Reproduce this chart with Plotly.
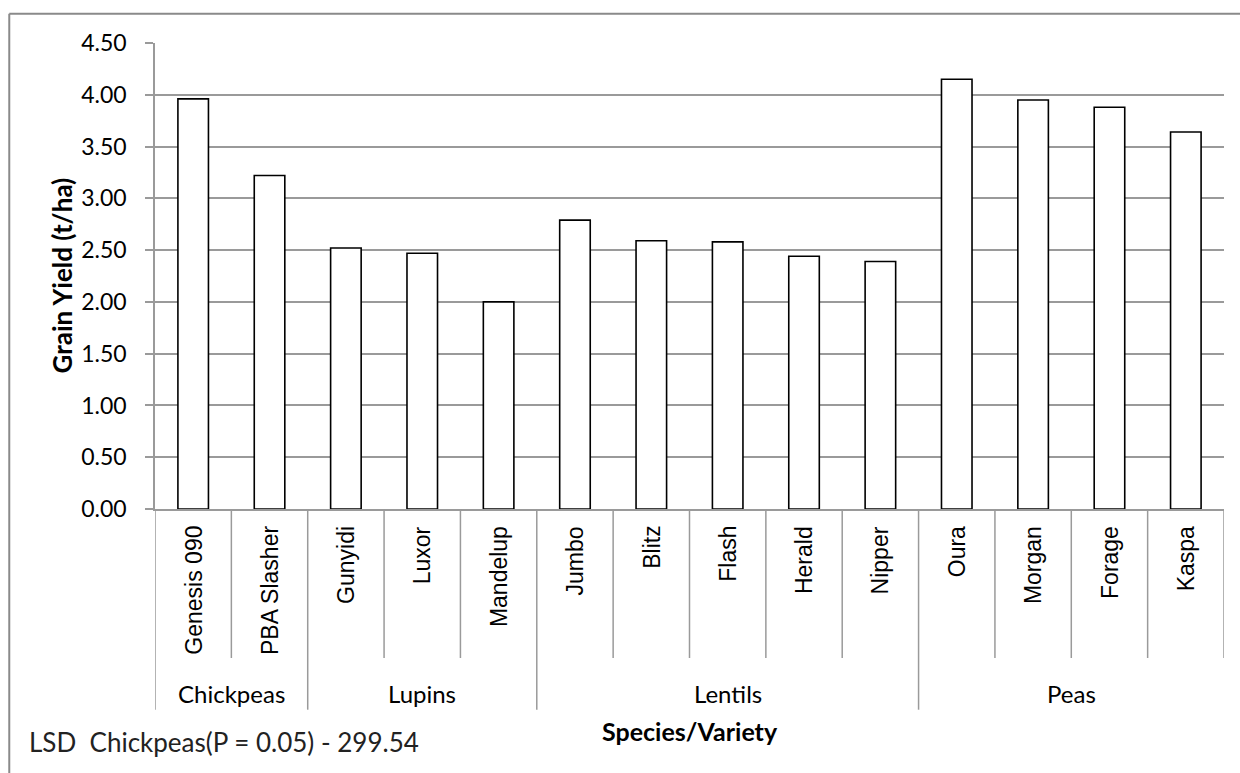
import plotly.graph_objects as go

varieties = ["Genesis 090", "PBA Slasher", "Gunyidi", "Luxor", "Mandelup",
             "Jumbo", "Blitz", "Flash", "Herald", "Nipper",
             "Oura", "Morgan", "Forage", "Kaspa"]
species = ["Chickpeas"] * 2 + ["Lupins"] * 3 + ["Lentils"] * 5 + ["Peas"] * 4
yields = [3.96, 3.22, 2.52, 2.47, 2.00, 2.79, 2.59, 2.58, 2.44, 2.39,
          4.15, 3.95, 3.88, 3.64]
y_ticks = [0, 0.5, 1.0, 1.5, 2.0, 2.5, 3.0, 3.5, 4.0, 4.5]

W, H = 1240, 773
L, R, T, B = 154.5, 16, 43.3, 263.7
plot_h = H - T - B

GRID = "#9a9a9a"
FONT = "Lato"

fig = go.Figure()
fig.add_trace(go.Bar(
    x=varieties, y=yields, width=0.4,
    marker=dict(color="white", line=dict(color="black", width=1.6)),
    showlegend=False, hoverinfo="x+y",
))

def py(px_below_axis):
    return -px_below_axis / plot_h

shapes = []
n = len(varieties)
group_starts = [i for i in range(n) if i == 0 or species[i] != species[i - 1]]
for i in range(n + 1):
    long_line = (i in group_starts)
    y1 = py(200.7) if long_line else py(149)
    shapes.append(dict(type="line", xref="x", yref="paper",
                       x0=i - 0.5, x1=i - 0.5, y0=0, y1=y1,
                       line=dict(color=GRID, width=1.5), layer="above"))

annotations = []
for v in varieties:
    annotations.append(dict(x=v, xref="x", y=0, yref="paper", yanchor="top",
                            xanchor="center", yshift=-15, textangle=-90,
                            text=v, showarrow=False,
                            font=dict(family="Liberation Sans", size=23, color="black")))

groups = []
for s in species:
    if s not in groups:
        groups.append(s)
for g in groups:
    idx = [i for i, s in enumerate(species) if s == g]
    annotations.append(dict(x=sum(idx) / len(idx), xref="x", y=0, yref="paper",
                            yanchor="middle", xanchor="center", yshift=-184.7,
                            text=g, showarrow=False,
                            font=dict(family=FONT, size=24, color="black")))

annotations.append(dict(x=0.5, xref="paper", y=0, yref="paper", yanchor="middle",
                        xanchor="center", yshift=-221.7, text="<b>Species/Variety</b>",
                        showarrow=False, font=dict(family=FONT, size=25, color="black")))
annotations.append(dict(x=0, xref="paper", y=0.5, yref="paper", xanchor="center",
                        yanchor="middle", xshift=-93.5, textangle=-90,
                        text="<b>Grain Yield (t/ha)</b>", showarrow=False,
                        font=dict(family=FONT, size=26, color="black")))
annotations.append(dict(x=0, xref="paper", y=0, yref="paper", xanchor="left",
                        yanchor="middle", xshift=-128.5, yshift=-232.7,
                        text="LSD\u00a0\u00a0Chickpeas(P = 0.05) - 299.54", showarrow=False,
                        font=dict(family=FONT, size=26, color="#222222")))

# outer chart border (top and left)
bx = (8.7 - L) / (W - L - R)
by = 1 + (T - 14) / plot_h
shapes.append(dict(type="line", xref="paper", yref="paper",
                   x0=bx, x1=1.2, y0=by, y1=by,
                   line=dict(color="#8a8a8a", width=2)))
shapes.append(dict(type="line", xref="paper", yref="paper",
                   x0=bx, x1=bx, y0=by, y1=-1.0,
                   line=dict(color="#8a8a8a", width=2)))

fig.update_layout(
    width=W, height=H,
    margin=dict(l=L, r=R, t=T, b=B, pad=0),
    paper_bgcolor="white", plot_bgcolor="white",
    bargap=0.6,
    xaxis=dict(type="category", range=[-0.5, n - 0.5], showticklabels=False,
               showgrid=False, zeroline=False, showline=True, linecolor=GRID,
               linewidth=1.5, ticks=""),
    yaxis=dict(range=[0, 4.5], tickvals=y_ticks, tickformat=".2f",
               showgrid=True, gridcolor=GRID, gridwidth=1.5, zeroline=False,
               showline=True, linecolor=GRID, linewidth=1.5,
               ticks="outside", ticklen=8, tickcolor=GRID, tickwidth=1.5,
               ticklabelstandoff=14,
               tickfont=dict(family=FONT, size=23, color="black")),
    shapes=shapes, annotations=annotations,
)

fig.write_html("out.html", config={"displayModeBar": False},
               post_script="document.body.style.margin='0';document.body.style.overflow='hidden';")
